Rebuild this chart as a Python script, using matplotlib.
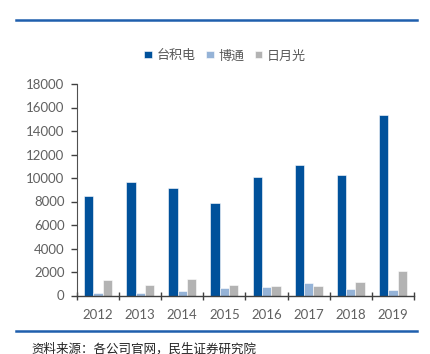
import matplotlib
matplotlib.use("Agg")
import matplotlib.pyplot as plt
import numpy as np

plt.rcParams['font.family'] = ['Noto Sans CJK SC', 'DejaVu Sans']

years = ['2012', '2013', '2014', '2015', '2016', '2017', '2018', '2019']
series_names = ['台积电', '博通', '日月光']
tsmc = [8470, 9630, 9150, 7880, 10110, 11130, 10280, 15380]
broadcom = [250, 250, 420, 600, 740, 1100, 540, 450]
ase = [1330, 910, 1420, 870, 850, 820, 1190, 2120]
colors = ['#00519B', '#95B3D7', '#B3B3B3']
yticks = list(range(0, 18001, 2000))

fig = plt.figure(figsize=(4.31, 3.54), dpi=100)
ax = fig.add_axes([77/431, 1 - 295.5/354, (414-77)/431, (295.5-84)/354])

x = np.arange(len(years))
w = 0.222
for i, (vals, c, name) in enumerate(zip([tsmc, broadcom, ase], colors, series_names)):
    ax.bar(x + (i - 1) * w, vals, width=w, color=c, label=name,
           edgecolor='white', linewidth=0.4)

ax.set_xlim(-0.5, len(years) - 0.5)
ax.set_ylim(0, 18000)
ax.set_yticks(yticks)
ax.set_yticklabels([str(t) for t in yticks])
ax.set_xticks(x)
ax.set_xticklabels(years)
for lab in ax.get_xticklabels() + ax.get_yticklabels():
    lab.set_fontfamily(['Lato', 'DejaVu Sans'])
    lab.set_fontsize(9.5)
ax.tick_params(axis='x', length=0, colors='#606060', pad=10)
ax.tick_params(axis='y', length=4, direction='out', colors='#606060', pad=5, width=1)
ax.tick_params(axis='y', color='#404040')
ax.set_xticks(np.arange(-0.5, len(years), 1), minor=True)
ax.tick_params(axis='x', which='minor', length=6, direction='inout', color='#404040', width=1)

for s in ['top', 'right']:
    ax.spines[s].set_visible(False)
ax.spines['left'].set_color('#505050')
ax.spines['bottom'].set_color('#404040')
ax.spines['bottom'].set_linewidth(1.0)

leg = fig.legend(loc='center', bbox_to_anchor=(225/431, 1 - 56/354), ncol=3,
                 frameon=False, fontsize=9.4, handlelength=0.6, handleheight=0.45,
                 handletextpad=0.35, columnspacing=0.8)
for t in leg.get_texts():
    t.set_color('#595959')

fig.add_artist(plt.Line2D([16/431, 417/431], [1 - 20/354, 1 - 20/354], color='#1F5FAD', linewidth=1.8))
fig.add_artist(plt.Line2D([16/431, 417/431], [1 - 331/354, 1 - 331/354], color='#1F5FAD', linewidth=1.8))
fig.text(31/431, 1 - 349/354, '资料来源：各公司官网，民生证券研究院', fontsize=9, color='#222222',
         va='center', ha='left')

fig.savefig('out.png', dpi=100)
